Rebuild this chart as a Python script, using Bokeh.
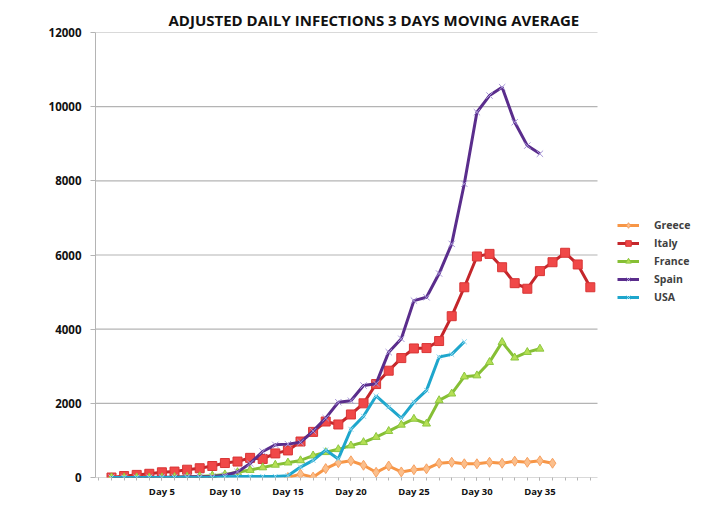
from bokeh.plotting import figure
from bokeh.models import Legend, LegendItem, FixedTicker, Range1d
from bokeh.embed import file_html
from bokeh.resources import INLINE

title_text = "ADJUSTED DAILY INFECTIONS 3 DAYS MOVING AVERAGE"
series_names = ["Greece", "Italy", "France", "Spain", "USA"]

italy = [0, 40, 70, 100, 140, 160, 210, 250, 310, 390, 430, 530, 500, 650, 730, 970,
         1230, 1510, 1430, 1700, 2000, 2520, 2880, 3220, 3480, 3490, 3680, 4350, 5130,
         5960, 6030, 5670, 5240, 5090, 5565, 5805, 6060, 5745, 5130]
spain = [0, 0, 0, 0, 10, 10, 20, 20, 30, 60, 150, 380, 700, 880, 900, 950, 1250, 1600,
         2030, 2070, 2480, 2530, 3380, 3740, 4770, 4860, 5500, 6300, 7920, 9850, 10300,
         10525, 9580, 8950, 8730]
france = [0, 0, 0, 0, 0, 10, 20, 30, 50, 80, 140, 200, 270, 340, 400, 460, 590, 680, 760,
          860, 950, 1090, 1250, 1420, 1580, 1450, 2080, 2260, 2720, 2750, 3110, 3650, 3230,
          3380, 3470]
usa = [0, 0, 0, 0, 0, 0, 0, 0, 0, 20, 30, 30, 30, 30, 50, 280, 460, 740, 500, 1300, 1650,
       2200, 1900, 1600, 2030, 2350, 3250, 3320, 3660]
greece_first_day = 15
greece = [0, 90, 10, 240, 400, 450, 330, 140, 310, 150, 210, 235, 385, 410, 370, 370, 410,
          385, 440, 410, 450, 385]

tick_days = [5, 10, 15, 20, 25, 30, 35]
tick_labels = ["Day 5", "Day 10", "Day 15", "Day 20", "Day 25", "Day 30", "Day 35"]
y_ticks = [0, 2000, 4000, 6000, 8000, 10000, 12000]


def days_for(vals, start=1):
    return list(range(start, start + len(vals)))


# axis extent (days) and the wider view that leaves room for the legend
axis_start, axis_end = -0.27, 39.57
axis_px, frame_px = 502, 610
view_end = axis_start + (axis_end - axis_start) * frame_px / axis_px

p = figure(width=709, height=511, output_backend="svg", toolbar_location=None,
           x_range=Range1d(axis_start, view_end), y_range=Range1d(0, 12000),
           min_border_left=95, min_border_right=709 - 95 - frame_px, min_border_top=32,
           min_border_bottom=34)
p.outline_line_color = None
p.background_fill_color = "white"
p.border_fill_color = "white"

p.title.text = title_text
p.title.text_font = "Open Sans"
p.title.text_font_style = "bold"
p.title.text_font_size = "15px"
p.title.text_color = "#111111"
p.title.align = "left"
p.title.offset = 73
p.title.standoff = 6

p.xgrid.visible = False
p.ygrid.visible = False
p.segment(x0=[axis_start] * len(y_ticks), y0=y_ticks,
          x1=[axis_end] * len(y_ticks), y1=y_ticks,
          line_color="#b4b4b4", line_width=1.2)

p.yaxis.ticker = FixedTicker(ticks=y_ticks)
p.yaxis.axis_line_color = "#b4b4b4"
p.yaxis.major_tick_line_color = "#b4b4b4"
p.yaxis.major_tick_out = 5
p.yaxis.major_tick_in = 0
p.yaxis.minor_tick_line_color = None
p.yaxis.major_label_text_font = "Open Sans"
p.yaxis.major_label_text_font_style = "bold"
p.yaxis.major_label_text_font_size = "11.5px"
p.yaxis.major_label_text_color = "#111111"
p.yaxis.major_label_standoff = 9

p.xaxis.ticker = FixedTicker(ticks=tick_days, minor_ticks=list(range(0, 40)))
p.xaxis.major_label_overrides = {d: lab for d, lab in zip(tick_days, tick_labels)}
p.xaxis.axis_line_color = None
p.xaxis.major_tick_line_color = "#b4b4b4"
p.xaxis.minor_tick_line_color = "#b4b4b4"
p.xaxis.major_tick_out = 3
p.xaxis.major_tick_in = 0
p.xaxis.minor_tick_out = 3
p.xaxis.minor_tick_in = 0
p.xaxis.major_label_text_font = "Open Sans"
p.xaxis.major_label_text_font_style = "bold"
p.xaxis.major_label_text_font_size = "9.5px"
p.xaxis.major_label_text_color = "#111111"
p.xaxis.major_label_standoff = 4

specs = [
    ("Greece", days_for(greece, greece_first_day), greece, "#f79646", "diamond", "#fbbf8c", "#f7a060", 10),
    ("Italy", days_for(italy), italy, "#c4262b", "square", "#f04848", "#d83535", 9),
    ("France", days_for(france), france, "#86bf35", "triangle", "#b5df55", "#8cc63f", 8),
    ("Spain", days_for(spain), spain, "#5a2d8c", "x", "#a797d8", "#a797d8", 9),
    ("USA", days_for(usa), usa, "#1ea6cc", "x", "#8bd6ee", "#8bd6ee", 7),
]

items = []
for name, xs, ys, lc, mk, mf, ml, ms in specs:
    ln = p.line(xs, ys, line_color=lc, line_width=3)
    sc = p.scatter(xs, ys, marker=mk, size=ms, fill_color=mf, line_color=ml, line_width=1)
    items.append(LegendItem(label=name, renderers=[ln, sc]))

legend = Legend(items=items, location=(522, 173))
legend.border_line_color = None
legend.background_fill_alpha = 0
legend.label_text_font = "Open Sans"
legend.label_text_font_size = "10.5px"
legend.label_text_font_style = "bold"
legend.label_text_color = "#404040"
legend.glyph_width = 22
legend.glyph_height = 14
legend.label_height = 14
legend.spacing = 4
legend.label_standoff = 15
legend.padding = 2
legend.margin = 0
p.add_layout(legend, "center")

open("out.html", "w").write(file_html(p, INLINE))
